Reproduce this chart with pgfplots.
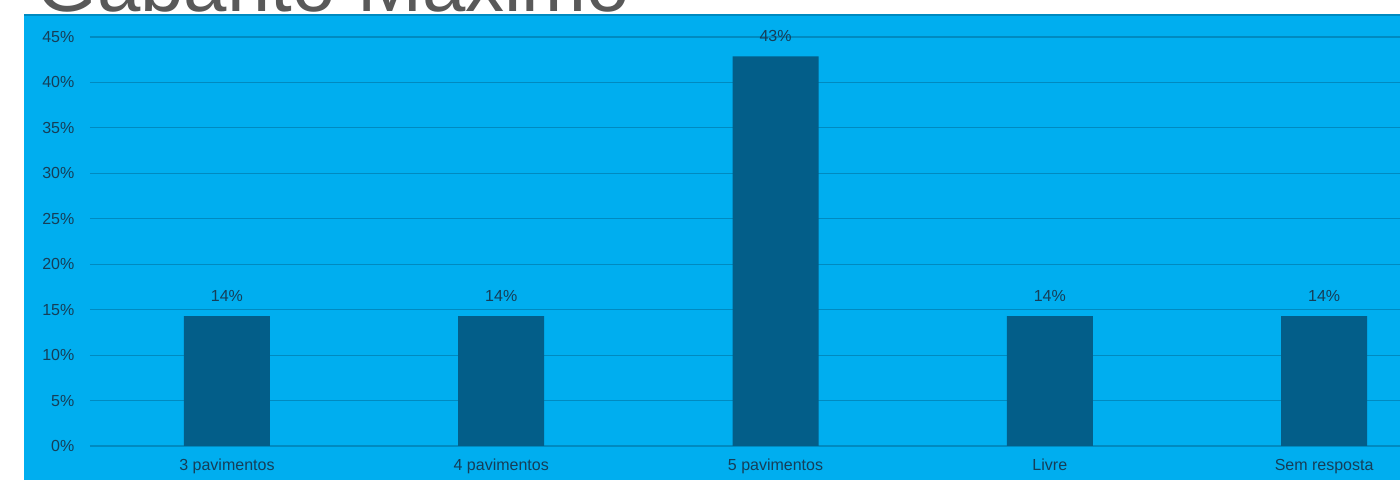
\documentclass[border=0pt]{standalone}
\usepackage{pgfplots}
\pgfplotsset{compat=1.18}
\usepackage{fontspec}
\setmainfont{Liberation Sans}
\definecolor{bgblue}{RGB}{0,174,239}
\definecolor{barblue}{RGB}{3,94,137}
\definecolor{gridc}{RGB}{0,138,192}
\definecolor{txt}{RGB}{22,62,88}
\definecolor{ttl}{RGB}{89,89,89}

\begin{document}
\begin{tikzpicture}
\useasboundingbox (0,0) rectangle (700pt,240pt);
\clip (0,0) rectangle (700pt,240pt);
\fill[bgblue] (12pt,-20pt) rectangle (760pt,232.5pt);
\draw[gridc, line width=0.6pt] (12pt,232.5pt) -- (760pt,232.5pt);
\node[anchor=base west, inner sep=0pt, text=ttl, font=\fontsize{39}{46}\selectfont] at (18pt,234pt) {Gabarito Máximo};
\begin{axis}[
    at={(44.9pt,17pt)}, anchor=south west,
    scale only axis,
    width=754.3pt, height=204.5pt,
    xmin=-0.5, xmax=5,
    ymin=0, ymax=45,
    ytick={0,5,...,45},
    xtick=data,
    xticklabels={3 pavimentos,4 pavimentos,5 pavimentos,Livre,Sem resposta},
    yticklabel={\pgfmathprintnumber{\tick}\%},
    /pgf/number format/assume math mode=true,
    axis line style={draw=none},
    major tick length=0pt,
    ymajorgrids,
    grid style={gridc, line width=0.6pt},
    tick label style={font=\fontsize{8}{9.6}\selectfont, text=txt},
    yticklabel style={xshift=-4.2pt},
    xticklabel style={yshift=-3pt},
    ybar, bar width=43pt,
    nodes near coords={\pgfmathprintnumber[fixed,precision=0]{\pgfplotspointmeta}\%},
    nodes near coords style={font=\fontsize{8}{9.6}\selectfont, text=txt, anchor=south, yshift=3.8pt},
    clip=false,
]
\addplot[fill=barblue, draw=none] coordinates {(0,14.29) (1,14.29) (2,42.86) (3,14.29) (4,14.29)};
\end{axis}
\end{tikzpicture}
\end{document}
